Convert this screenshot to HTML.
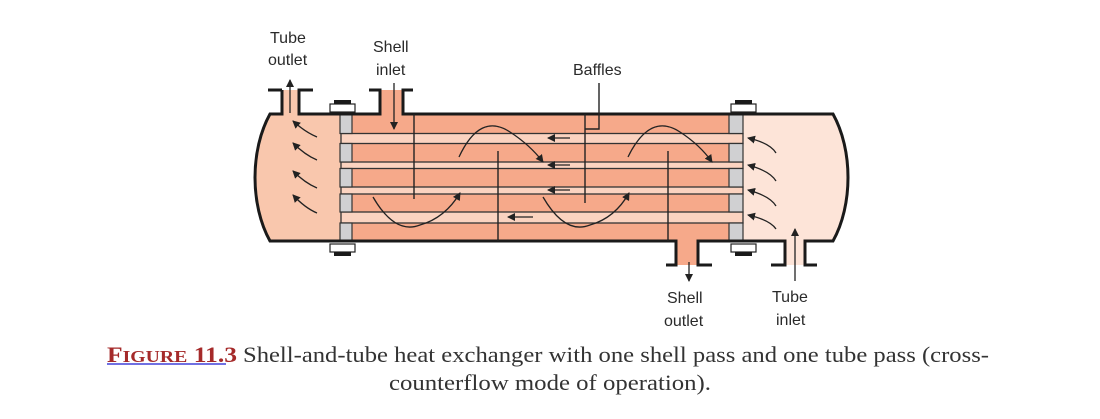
<!DOCTYPE html>
<html><head><meta charset="utf-8"><style>
html,body{margin:0;padding:0;background:#fff;}
svg{display:block}
text{font-family:"Liberation Sans",sans-serif;fill:#2a2a2a;font-size:16px}
.cap{font-family:"Liberation Serif",serif;font-size:22px;fill:#333}
</style></head><body>
<svg width="1100" height="419" viewBox="0 0 1100 419" xmlns="http://www.w3.org/2000/svg">
<defs>
<marker id="ah" markerWidth="8" markerHeight="8" refX="7" refY="4" orient="auto" markerUnits="userSpaceOnUse">
<path d="M0,0 L8,4 L0,8 Z" fill="#222"/></marker>
</defs>
<path d="M270,114 C250,150 250,205 270,241 L341,241 L341,114 Z" fill="#f9c7ad"/>
<path d="M833,114 C853,150 853,205 833,241 L743,241 L743,114 Z" fill="#fde4d8"/>
<rect x="352" y="114" width="377" height="127" fill="#f6a98a"/>
<rect x="282" y="90" width="16" height="25" fill="#f9c7ad"/>
<rect x="380" y="90" width="23" height="25" fill="#f6a98a"/>
<rect x="676" y="240" width="22" height="25" fill="#f6a98a"/>
<rect x="785" y="240" width="20" height="25" fill="#fde4d8"/>
<g fill="#fbd3c0" stroke="#333" stroke-width="1.3">
<rect x="341" y="133.5" width="402" height="10"/>
<rect x="341" y="162" width="402" height="6.5"/>
<rect x="341" y="187" width="402" height="7"/>
<rect x="341" y="212" width="402" height="11"/>
</g>
<g fill="#d0d0d2" stroke="#333" stroke-width="1.2">
<rect x="340" y="114" width="12" height="19.5"/><rect x="340" y="143.5" width="12" height="18.5"/><rect x="340" y="168.5" width="12" height="18.5"/><rect x="340" y="194" width="12" height="18"/><rect x="340" y="223" width="12" height="18"/>
<rect x="729" y="114" width="14" height="19.5"/><rect x="729" y="143.5" width="14" height="18.5"/><rect x="729" y="168.5" width="14" height="18.5"/><rect x="729" y="194" width="14" height="18"/><rect x="729" y="223" width="14" height="18"/>
</g>
<g fill="none" stroke="#1a1a1a" stroke-width="3">
<path d="M282,90 L282,114 L270,114 C250,150 250,205 270,241 L676,241 L676,265 L666,265"/>
<path d="M268,90 L282,90"/>
<path d="M313,90 L299,90 L299,114 L380,114 L380,90 L369,90"/>
<path d="M413,90 L403,90 L403,114 L833,114 C853,150 853,205 833,241 L805,241 L805,265 L817,265"/>
<path d="M712,265 L698,265 L698,241 L785,241 L785,265 L771,265"/>
</g>
<g fill="#fff" stroke="#222" stroke-width="1.2">
<rect x="330" y="104" width="25" height="8"/><rect x="731" y="104" width="25" height="8"/>
<rect x="330" y="244" width="25" height="8"/><rect x="731" y="244" width="25" height="8"/>
</g>
<g fill="#1a1a1a">
<rect x="334" y="100" width="17" height="4"/><rect x="735" y="100" width="17" height="4"/>
<rect x="334" y="252" width="17" height="4"/><rect x="735" y="252" width="17" height="4"/>
</g>
<g stroke="#222" stroke-width="1.4">
<line x1="414" y1="114" x2="414" y2="199"/>
<line x1="498" y1="151" x2="498" y2="241"/>
<line x1="585" y1="114" x2="585" y2="203"/>
<line x1="668" y1="151" x2="668" y2="241"/>
<polyline points="599,83 599,129 585,129" fill="none"/>
</g>
<g fill="none" stroke="#222" stroke-width="1.3" marker-end="url(#ah)">
<line x1="290" y1="113" x2="290" y2="80"/>
<line x1="394" y1="83" x2="394" y2="129"/>
<line x1="689" y1="262" x2="689" y2="281"/>
<line x1="795" y1="281" x2="795" y2="229"/>
<path d="M373,197 Q395,235 420,225 Q445,218 460,193"/>
<path d="M459,157 Q480,112 510,132 Q530,145 543,162"/>
<path d="M543,197 Q565,235 590,225 Q615,218 629,193"/>
<path d="M628,157 Q650,112 680,132 Q700,145 712,162"/>
<path d="M317,137 Q305,132 293,121"/><path d="M317,160 Q305,155 293,143"/>
<path d="M317,188 Q305,183 293,171"/><path d="M317,213 Q305,208 293,195"/>
<path d="M776,153 Q770,143 748,138"/><path d="M776,181 Q770,171 748,165"/>
<path d="M776,206 Q770,196 748,190"/><path d="M776,229 Q770,220 748,215"/>
<line x1="570" y1="138" x2="548" y2="138"/>
<line x1="570" y1="165" x2="548" y2="165"/>
<line x1="570" y1="190" x2="548" y2="190"/>
<line x1="533" y1="217" x2="508" y2="217"/>
</g>
<text x="270" y="43">Tube</text>
<text x="268" y="65">outlet</text>
<text x="373" y="52">Shell</text>
<text x="376" y="75">inlet</text>
<text x="573" y="75">Baffles</text>
<text x="667" y="303">Shell</text>
<text x="664" y="326">outlet</text>
<text x="772" y="302">Tube</text>
<text x="776" y="325">inlet</text>
<text class="cap" x="107" y="362" textLength="130" lengthAdjust="spacingAndGlyphs" style="fill:#a52a2a;font-weight:bold;font-size:22px">F<tspan style="font-size:17px">IGURE</tspan> 11.3</text>
<line x1="107" y1="364" x2="226" y2="364" stroke="#1a1ad0" stroke-width="1.3"/>
<text class="cap" x="243" y="362" textLength="746" lengthAdjust="spacingAndGlyphs">Shell-and-tube heat exchanger with one shell pass and one tube pass (cross-</text>
<text class="cap" x="389" y="390" textLength="322" lengthAdjust="spacingAndGlyphs">counterflow mode of operation).</text>
</svg>
</body></html>
